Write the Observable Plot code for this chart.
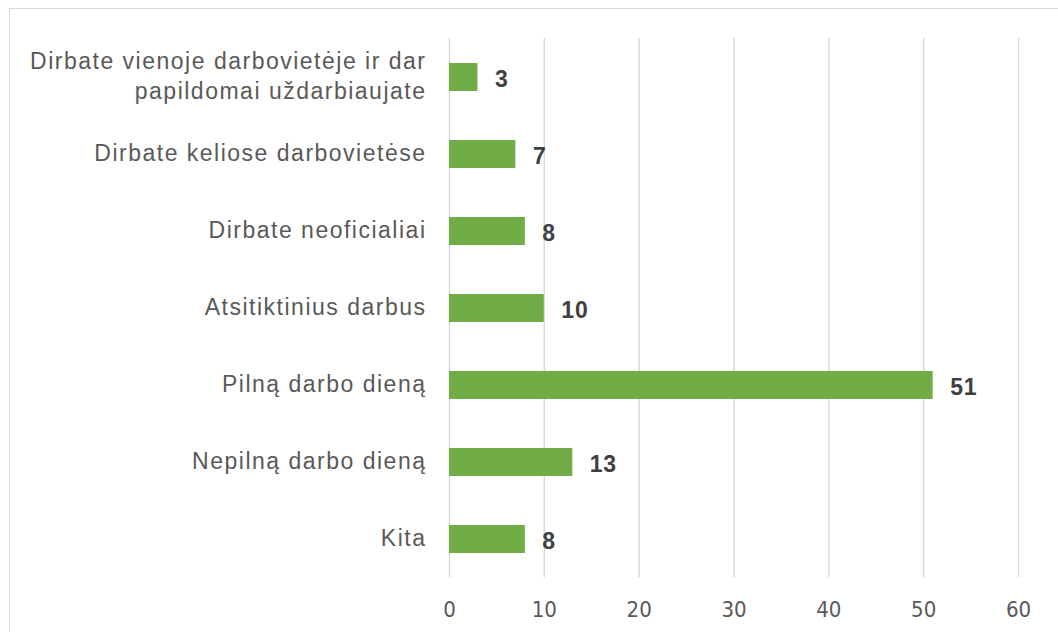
<!DOCTYPE html>
<html>
<head>
<meta charset="utf-8">
<script src="https://cdn.jsdelivr.net/npm/d3@7"></script>
<script src="https://cdn.jsdelivr.net/npm/@observablehq/plot@0.6"></script>
<style>
  html, body { margin: 0; padding: 0; background: #fff; }
  #wrap { position: relative; width: 1058px; height: 632px; overflow: hidden; }
  #frame { position: absolute; left: 9px; top: 8px; width: 1100px; height: 700px;
           border-left: 1.5px solid #d9d9d9; border-top: 1.5px solid #d9d9d9; box-sizing: border-box; }
  #chart { position: absolute; left: 0; top: 0; }
  g[aria-label="y-axis tick label"] text { letter-spacing: 1.5px; }
  g.vals text { letter-spacing: 0.8px; }
</style>
</head>
<body>
<div id="wrap"><div id="frame"></div><div id="chart"></div></div>
<script>
const categories = [
  "Dirbate vienoje darbovietėje ir dar\npapildomai uždarbiaujate",
  "Dirbate keliose darbovietėse",
  "Dirbate neoficialiai",
  "Atsitiktinius darbus",
  "Pilną darbo dieną",
  "Nepilną darbo dieną",
  "Kita"
];
const values = [3, 7, 8, 10, 51, 13, 8];
const xTicks = [0, 10, 20, 30, 40, 50, 60];

const data = categories.map((c, i) => ({category: c, value: values[i]}));

const chart = Plot.plot({
  width: 1058,
  height: 632,
  marginTop: 38,
  marginBottom: 55,
  marginLeft: 449,
  marginRight: 40,
  style: {background: "transparent", overflow: "visible"},
  x: {domain: [0, 60], ticks: xTicks, label: null},
  y: {domain: categories, paddingInner: 0.64, paddingOuter: 0.32, align: 0.5, label: null},
  marks: [
    Plot.gridX(xTicks, {stroke: "#d9d9d9", strokeOpacity: 1, strokeWidth: 1.5}),
    Plot.axisX(xTicks, {tickSize: 0, tickPadding: 24, fontSize: 22, fill: "#595959", label: null,
      fontFamily: "'Liberation Sans Narrow', 'DejaVu Sans Condensed', 'Open Sans', sans-serif"}),
    Plot.axisY({tickSize: 0, tickPadding: 23, fontSize: 23, fill: "#595959", lineHeight: 1.3,
      dy: -3, fontFamily: "'Liberation Sans', Arial, sans-serif", label: null}),
    Plot.barX(data, {x: "value", y: "category", fill: "#70AD47"}),
    Plot.text(data, {x: "value", y: "category", text: d => String(d.value), textAnchor: "start",
      dx: 17, dy: 2, fontSize: 23, fontWeight: "bold", fill: "#404040", className: "vals",
      fontFamily: "'Liberation Sans', Arial, sans-serif"})
  ]
});
document.getElementById("chart").appendChild(chart);
</script>
</body>
</html>
